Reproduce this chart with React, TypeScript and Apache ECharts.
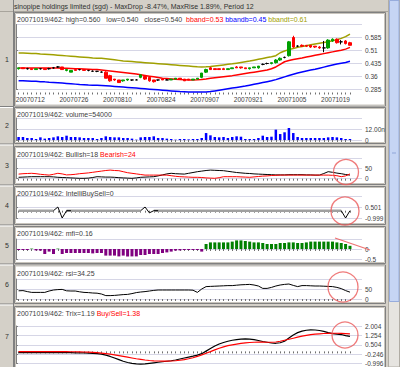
import React, { useEffect, useRef } from 'react';
import * as echarts from 'echarts';

const dates = [
  '20070704','20070705','20070706','20070709','20070710','20070711','20070712','20070713','20070716','20070717',
  '20070718','20070719','20070720','20070723','20070724','20070725','20070726','20070727','20070730','20070731',
  '20070801','20070802','20070803','20070806','20070807','20070808','20070810','20070813','20070814','20070815',
  '20070816','20070817','20070820','20070821','20070822','20070823','20070824','20070827','20070828','20070829',
  '20070830','20070831','20070903','20070904','20070905','20070906','20070907','20070910','20070911','20070912',
  '20070913','20070914','20070917','20070918','20070919','20070920','20070921','20070924','20070925','20070926',
  '20070927','20070928','20071001','20071002','20071003','20071004','20071005','20071008','20071009','20071010',
  '20071011','20071012','20071015','20071016','20071017','20071018','20071019'
];

// [open, close, low, high]
const candles = [
  [.405,.410,.400,.410],[.410,.405,.405,.410],[.405,.405,.400,.410],[.405,.400,.400,.405],[.400,.405,.400,.405],
  [.405,.405,.400,.405],[.405,.400,.400,.405],[.405,.405,.400,.410],[.410,.410,.405,.415],[.415,.415,.410,.420],
  [.415,.400,.400,.415],[.395,.400,.390,.400],[.385,.395,.385,.395],[.400,.395,.395,.400],[.400,.400,.395,.400],
  [.400,.395,.395,.400],[.395,.395,.390,.395],[.390,.390,.390,.395],[.390,.390,.385,.390],[.385,.385,.385,.390],
  [.385,.350,.350,.390],[.365,.335,.330,.370],[.345,.340,.335,.345],[.340,.325,.325,.340],[.335,.340,.330,.340],
  [.340,.345,.335,.345],[.340,.340,.335,.340],[.340,.340,.340,.345],[.355,.370,.350,.370],[.360,.345,.340,.360],
  [.355,.335,.330,.355],[.340,.330,.325,.340],[.340,.340,.335,.340],[.345,.340,.340,.345],[.340,.340,.340,.345],
  [.340,.345,.340,.345],[.345,.350,.345,.350],[.350,.345,.345,.350],[.345,.335,.335,.345],[.345,.340,.340,.345],
  [.340,.345,.340,.345],[.345,.350,.345,.350],[.355,.380,.350,.380],[.385,.400,.380,.405],[.410,.400,.400,.415],
  [.405,.400,.400,.405],[.405,.400,.400,.405],[.405,.400,.400,.410],[.400,.405,.400,.405],[.405,.410,.405,.410],
  [.415,.410,.410,.420],[.415,.410,.405,.415],[.410,.405,.405,.410],[.405,.410,.400,.410],[.410,.415,.410,.415],
  [.410,.420,.405,.420],[.430,.430,.425,.435],[.435,.435,.430,.440],[.435,.440,.430,.440],[.440,.455,.435,.460],
  [.455,.465,.450,.470],[.470,.470,.465,.475],[.480,.560,.475,.565],[.585,.530,.525,.595],[.535,.535,.530,.540],
  [.540,.535,.530,.545],[.540,.535,.530,.540],[.540,.530,.525,.540],[.535,.530,.525,.535],[.530,.525,.520,.535],
  [.525,.525,.500,.565],[.525,.570,.520,.575],[.565,.575,.560,.580],[.575,.555,.550,.580],[.560,.560,.545,.570],
  [.565,.550,.545,.570],[.555,.540,.540,.560]
];

const bbandt = [
  .495,.495,.494,.493,.492,.490,.489,.487,.485,.483,
  .481,.479,.477,.475,.473,.471,.469,.467,.466,.465,
  .462,.459,.456,.453,.450,.448,.446,.444,.442,.440,
  .438,.436,.434,.432,.430,.428,.426,.424,.422,.420,
  .418,.416,.415,.416,.418,.421,.424,.427,.430,.433,
  .437,.441,.445,.449,.454,.459,.464,.469,.474,.480,
  .497,.507,.515,.522,.528,.533,.538,.543,.548,.552,
  .556,.561,.566,.572,.580,.590,.605
];
const bband = [
  .409,.409,.409,.409,.409,.409,.409,.409,.409,.409,
  .408,.407,.406,.405,.404,.403,.402,.401,.400,.398,
  .395,.392,.389,.386,.383,.380,.377,.374,.370,.366,
  .362,.358,.354,.350,.348,.346,.344,.342,.341,.340,
  .340,.341,.343,.346,.350,.353,.356,.359,.362,.365,
  .369,.373,.377,.381,.385,.389,.393,.397,.405,.415,
  .430,.445,.452,.458,.463,.467,.472,.477,.482,.487,
  .492,.497,.502,.507,.512,.518,.528
];
const bbandb = [
  .336,.335,.334,.333,.332,.330,.329,.327,.326,.324,
  .322,.320,.318,.316,.314,.313,.311,.310,.309,.308,
  .307,.305,.303,.301,.299,.297,.295,.293,.291,.289,
  .287,.285,.283,.281,.279,.277,.275,.273,.272,.271,
  .270,.270,.270,.271,.273,.277,.281,.285,.289,.293,
  .297,.301,.305,.310,.315,.320,.325,.330,.335,.342,
  .350,.358,.366,.373,.380,.386,.392,.397,.402,.408,
  .414,.420,.426,.432,.437,.441,.448
];

const volume = [
  3.3,3.3,2.2,2.2,1.1,2.9,1.5,2.2,2.9,4.0, 3.3,4.7,3.3,3.3,2.9,2.2,2.2,2.2,1.1,2.2,
  4.0,3.3,2.9,2.9,2.2,2.2,1.5,0.4,2.9,3.3, 3.3,4.0,2.2,2.2,1.5,1.1,0.4,1.1,1.1,0.7,
  1.1,1.1,2.2,7.6,5.1,3.3,2.9,3.3,2.2,3.3, 4.0,3.6,1.1,1.1,1.1,2.2,4.7,3.3,3.6,11.3,
  6.5,8.4,13.1,7.6,3.3,2.2,2.2,2.2,2.2,2.2, 2.2,2.9,3.3,2.9,2.2,1.1,1.1
];

const bullish = [
  7,8,9,10,10,10,10,10,9,7, 6,5,4,3,2,2,3,6,10,9, 8,8,7,5,4,3,2,4,7,8,
  9,10,14,19,24,27,25,24,23,27, 31,35,38,41,43,42,41,40,37,34, 31,29,27,26,24,23,22,21,20,19,
  19,19,20,20,20,20,19,19,18,18, 26,35,32,28,25,21,18
];
const bearish = [
  23,25,26,27,25,22,20,18,22,27, 24,19,20,22,25,27,29,32,35,38, 41,43,41,40,35,30,27,24,21,18,
  18,18,18,18,18,15,12,10,9,8, 7,7,6,4,3,2,5,10,10,10, 10,9,8,7,9,11,13,14,16,17,
  18,18,18,18,18,18,18,18,18,18, 18,18,17,15,10,14,24
];

const intelli = [
  0,0,0,0,0,0,0,0,0,0.5, -1,0,0,0,0,0,0,0,0,0, 0,0,0,0,0,0,0,0,0,0.5,
  -0.3,0,0,0,0,0,0,0,0,0, 0,0,0,0,0,0,0,0,0,0, 0,0,0,0,0,0,0,0,0,0,
  0,0,0,0,0,0,0,0,0,0, 0,0,0,0,0,-1,0
];

const mfi = [
  -0.05,-0.05,-0.05,0.02,-0.07,-0.08,-0.25,-0.13,-0.25,0.02,
  -0.25,-0.2,-0.2,-0.2,-0.2,-0.2,-0.2,-0.22,-0.2,-0.2,
  -0.33,-0.33,-0.33,-0.37,-0.33,-0.37,-0.37,-0.37,-0.3,-0.3,
  -0.25,-0.25,-0.25,-0.2,-0.17,-0.13,-0.08,-0.07,-0.05,-0.05,
  -0.05,-0.05,-0.13,0.25,0.33,0.33,0.33,0.33,0.33,0.37,
  0.43,0.43,0.4,0.37,0.33,0.33,0.3,0.25,0.25,0.25,
  0.3,0.3,0.33,0.33,0.3,0.3,0.33,0.37,0.37,0.37,
  0.37,0.37,0.37,0.33,0.3,0.25,0.16
];

const rsi = [
  41,42,37,33,33,33,33,40,45,47, 48,41,40,40,36,33,32,30,29,25,
  17,17,18,20,22,23,27,32,35,37, 40,43,45,45,45,45,45,45,45,45,
  44,33,50,62,63,64,65,66,67,67, 69,71,72,73,70,65,53,53,58,65,
  70,73,75,68,62,67,67,66,65,65, 64,63,62,58,52,42,34.25
];

const trix = [
  -0.10,-0.10,-0.10,-0.10,-0.10,-0.10,-0.10,-0.10,-0.10,-0.10,
  -0.10,-0.10,-0.10,-0.11,-0.11,-0.12,-0.13,-0.15,-0.18,-0.22,
  -0.30,-0.40,-0.52,-0.65,-0.78,-0.88,-0.95,-0.99,-1.00,-0.98,
  -0.94,-0.90,-0.86,-0.82,-0.78,-0.74,-0.68,-0.60,-0.52,-0.45,
  -0.38,-0.30,-0.18,0.02,0.22,0.42,0.58,0.70,0.80,0.88,
  0.93,0.97,0.98,0.97,0.93,0.86,0.78,0.72,0.66,0.64,
  0.68,0.80,1.05,1.30,1.48,1.60,1.67,1.70,1.69,1.65,
  1.58,1.48,1.40,1.36,1.33,1.25,1.19
];
const buySell = [
  -0.02,-0.02,-0.02,-0.02,-0.02,-0.02,-0.02,-0.02,-0.02,-0.02,
  -0.02,-0.02,-0.03,-0.03,-0.04,-0.05,-0.06,-0.08,-0.10,-0.13,
  -0.17,-0.22,-0.28,-0.34,-0.40,-0.46,-0.52,-0.58,-0.63,-0.68,
  -0.72,-0.75,-0.76,-0.77,-0.77,-0.76,-0.74,-0.70,-0.65,-0.58,
  -0.50,-0.40,-0.28,-0.15,-0.02,0.12,0.25,0.36,0.45,0.52,
  0.58,0.63,0.67,0.70,0.72,0.73,0.73,0.72,0.72,0.74,
  0.80,0.88,0.96,1.04,1.12,1.20,1.27,1.32,1.36,1.39,
  1.41,1.42,1.43,1.43,1.42,1.40,1.38
];

const NB = '\u00a0';
const mainTitle = 'sinopipe holdings limited (sgd) - MaxDrop -8.47%, MaxRise 1.89%, Period 12';
const volLabel = (v: number) => (v === 0 ? '0' : v.toFixed(2) + 'n');

const FONT = '"Liberation Sans", Arial, sans-serif';
const X_LEFT = 18.6;
const X_STEP = 4.36;
const SLOTS = 80;
const PLOT_L = 16;
const PLOT_R = 362;
const W = 400;
const H = 367;

type Panel = {
  num: string; box: [number, number]; titleY: number; title: string;
  dTop: number; dBot: number; lTop: number; lBot: number;
  lMin: number; lMax: number; step: number; hideMax: boolean;
  fmt?: (v: number) => string;
};

const panels: Panel[] = [
  { num: '1', box: [12.5, 106], titleY: 19,
    title: `{g|20071019/462: high=0.560${NB}${NB}${NB}low=0.540${NB}${NB}${NB}close=0.540${NB}${NB}}{r|bband=0.53}{g|${NB}}{b|bbandb=0.45}{g|${NB}}{o|bbandt=0.61}`,
    dTop: 24.5, dBot: 92.5, lTop: 24.5, lBot: 89.5, lMin: 0.285, lMax: 0.66, step: 0.075, hideMax: true },
  { num: '2', box: [107.5, 143.5], titleY: 114, title: '{g|20071019/462: volume=54000}',
    dTop: 118, dBot: 140, lTop: 118, lBot: 140, lMin: 0, lMax: 24, step: 12, hideMax: true, fmt: volLabel },
  { num: '3', box: [146.5, 184.5], titleY: 154, title: `{g|20071019/462: Bullish=18${NB}}{r|Bearish=24}`,
    dTop: 158.7, dBot: 181, lTop: 158.7, lBot: 178.7, lMin: 0, lMax: 100, step: 50, hideMax: true },
  { num: '4', box: [186.5, 224.5], titleY: 193, title: '{g|20071019/462: IntelliBuySell=0}',
    dTop: 199, dBot: 220.5, lTop: 196, lBot: 218, lMin: -0.999, lMax: 2.001, step: 1.5, hideMax: true },
  { num: '5', box: [226.5, 263.5], titleY: 233, title: '{g|20071019/462: mfi=0.16}',
    dTop: 236, dBot: 259.5, lTop: 239, lBot: 259, lMin: -0.5, lMax: 0.5, step: 0.5, hideMax: true },
  { num: '6', box: [265, 303.5], titleY: 273, title: '{g|20071019/462: rsi=34.25}',
    dTop: 276, dBot: 300.5, lTop: 279, lBot: 299, lMin: 0, lMax: 100, step: 50, hideMax: true },
  { num: '7', box: [306.5, 372], titleY: 313, title: `{g|20071019/462: Trix=1.19${NB}}{r|Buy/Sell=1.38}`,
    dTop: 318, dBot: 366, lTop: 326, lBot: 364, lMin: -0.996, lMax: 2.004, step: 0.75, hideMax: false },
];

const annotCircles = [
  { cx: 346, cy: 172, r: 12.5 },
  { cx: 345, cy: 211, r: 14 },
  { cx: 343, cy: 287, r: 15 },
  { cx: 345, cy: 335, r: 13 },
];

function buildOption() {
  const N = dates.length;
  const cats = dates.concat(Array(SLOTS - N).fill(''));
  const grids: any[] = [];
  const xAxes: any[] = [];
  const yAxes: any[] = [];
  const fmtNum = (v: number) => String(+v.toFixed(3));

  panels.forEach((p, i) => {
    const ppu = (p.lBot - p.lTop) / (p.lMax - p.lMin);
    const dMax = p.lMax + (p.lTop - p.dTop) / ppu;
    const dMin = p.lMin - (p.dBot - p.lBot) / ppu;
    grids.push({ left: X_LEFT, width: X_STEP * (SLOTS - 1), top: p.dTop, height: p.dBot - p.dTop });
    xAxes.push({
      type: 'category', gridIndex: 2 * i, data: cats, boundaryGap: false,
      axisLine: { show: false },
      axisTick: { show: true, length: 2, interval: (idx: number) => idx < N, lineStyle: { color: '#707070', width: 1 } },
      axisLabel: i === 0 ? {
        show: true, interval: (idx: number) => idx >= 6 && idx < N && (idx - 6) % 10 === 0,
        align: 'right', fontSize: 6.5, fontFamily: FONT, color: '#404040', margin: 3,
      } : { show: false },
      splitLine: { show: false },
    });
    yAxes.push({ type: 'value', gridIndex: 2 * i, min: dMin, max: dMax, show: false });
    grids.push({ left: PLOT_L, right: W - PLOT_R, top: p.lTop, height: p.lBot - p.lTop });
    xAxes.push({ type: 'value', gridIndex: 2 * i + 1, min: 0, max: 1, show: false });
    yAxes.push({
      type: 'value', gridIndex: 2 * i + 1, position: 'right',
      min: p.lMin, max: p.lMax, interval: p.step,
      axisLine: { show: true, lineStyle: { color: '#808080', width: 1 } },
      axisTick: { show: true, length: 2, lineStyle: { color: '#808080' } },
      axisLabel: {
        show: true, showMaxLabel: !p.hideMax, showMinLabel: true,
        fontSize: 6.5, fontFamily: FONT, color: '#404040', margin: 3,
        padding: [0, 0, 4, 0],
        formatter: (v: number) => (p.fmt ? p.fmt(v) : fmtNum(v)),
      },
      splitLine: { show: true, lineStyle: { color: '#d6d6e6', width: 1 } },
    });
  });

  const line = (data: any[], gi: number, color: string, width: number, z = 3) => ({
    type: 'line', xAxisIndex: 2 * gi, yAxisIndex: 2 * gi, data, showSymbol: false, symbol: 'none',
    lineStyle: { color, width }, itemStyle: { color }, z, silent: true,
  });

  const grayIBS = intelli.map((v) => (v === 0 ? v : null));
  const blackIBS = intelli.map((v, i) =>
    v !== 0 || (intelli[i - 1] ?? 0) !== 0 || (intelli[i + 1] ?? 0) !== 0 || (intelli[i - 2] ?? 0) !== 0 ? v : null);

  const series: any[] = [
    line(bbandt, 0, '#a0a000', 1.5),
    line(bband, 0, '#ff0000', 1.5),
    line(bbandb, 0, '#0000ff', 1.5),
    {
      type: 'candlestick', xAxisIndex: 0, yAxisIndex: 0, data: candles, barWidth: 3, z: 4,
      itemStyle: {
        color: '#00a000', color0: '#ff0000', borderColor: '#00a000', borderColor0: '#ff0000',
        borderColorDoji: '#000000', borderWidth: 1,
      },
    },
    { type: 'bar', xAxisIndex: 2, yAxisIndex: 2, data: volume, barWidth: 2.5, itemStyle: { color: '#0000ff' } },
    line(bullish, 2, '#000000', 1),
    line(bearish, 2, '#ff0000', 1),
    line(grayIBS, 3, '#a0a0a0', 2.5),
    line(blackIBS, 3, '#000000', 1, 4),
    {
      type: 'bar', xAxisIndex: 8, yAxisIndex: 8, data: mfi, barWidth: 3,
      itemStyle: { color: (pr: any) => (pr.value >= 0 ? '#008000' : '#800080') },
    },
    line(rsi, 5, '#000000', 1),
    line(trix, 6, '#000000', 1.2),
    line(buySell, 6, '#ff0000', 1.2, 4),
  ];

  const g: any[] = [];
  g.push({ type: 'rect', shape: { x: 0, y: 0, width: W, height: H }, style: { fill: '#d4d0c8' }, z: -20 });
  g.push({ type: 'line', shape: { x1: 0, y1: 11.5, x2: 388, y2: 11.5 }, style: { stroke: '#a8a49c', lineWidth: 1 }, z: -19 });
  g.push({ type: 'text', x: 14, y: 6, style: { text: mainTitle, font: `7px ${FONT}`, fill: '#303030', verticalAlign: 'middle' }, z: 10 });
  g.push({ type: 'line', shape: { x1: 13.5, y1: 0, x2: 13.5, y2: H }, style: { stroke: '#808080', lineWidth: 1 }, z: -18 });
  g.push({ type: 'rect', shape: { x: 388.5, y: 0, width: 11, height: H }, style: { fill: '#e6e4e0', stroke: '#b0aca4' }, z: -18 });
  g.push({ type: 'rect', shape: { x: 389.5, y: 0.5, width: 9.5, height: 301 }, style: { fill: '#c6d5f4', stroke: '#97acdc' }, z: -17 });
  g.push({ type: 'line', shape: { x1: 392, y1: 153, x2: 396, y2: 153 }, style: { stroke: '#8fa5d8', lineWidth: 1 }, z: -16 });

  const rich = {
    g: { fill: '#404040', font: `7px ${FONT}` },
    r: { fill: '#ff0000', font: `7px ${FONT}` },
    b: { fill: '#0000ff', font: `7px ${FONT}` },
    o: { fill: '#a0a000', font: `7px ${FONT}` },
  };

  panels.forEach((p) => {
    const [t, b] = p.box;
    g.push({ type: 'line', shape: { x1: 0, y1: b + 0.5, x2: 13.5, y2: b + 0.5 }, style: { stroke: '#808080', lineWidth: 1 }, z: -18 });
    g.push({ type: 'line', shape: { x1: 0, y1: b + 1.5, x2: 13, y2: b + 1.5 }, style: { stroke: '#ffffff', lineWidth: 1 }, z: -18 });
    g.push({ type: 'text', x: 7, y: (t + Math.min(b, H)) / 2, style: { text: p.num, font: `7px ${FONT}`, fill: '#303030', align: 'center', verticalAlign: 'middle' }, z: 10 });
    g.push({ type: 'rect', shape: { x: 14.5, y: t, width: 371, height: b - t }, style: { fill: '#ffffff', stroke: '#808080', lineWidth: 1 }, z: -15 });
    g.push({ type: 'rect', shape: { x: 15.5, y: t + 1, width: 369, height: b - t - 2 }, style: { fill: 'none', stroke: '#c8c4bc', lineWidth: 1 }, z: -14 });
    g.push({ type: 'text', x: 17, y: p.titleY, style: { text: p.title, rich, font: `7px ${FONT}`, fill: '#404040', verticalAlign: 'middle' }, z: 10 });
  });

  annotCircles.forEach((c) => {
    g.push({ type: 'circle', shape: c, style: { fill: 'none', stroke: 'rgba(235,90,90,0.8)', lineWidth: 1.3 }, z: 100 });
  });
  g.push({ type: 'line', shape: { x1: 335, y1: 238, x2: 370, y2: 250 }, style: { stroke: 'rgba(235,90,90,0.85)', lineWidth: 1.3 }, z: 100 });

  return {
    animation: false,
    backgroundColor: '#d4d0c8',
    grid: grids,
    xAxis: xAxes,
    yAxis: yAxes,
    series,
    graphic: { elements: g },
  };
}

export default function App() {
  const ref = useRef<HTMLDivElement>(null);
  useEffect(() => {
    document.body.style.margin = '0';
    const chart = echarts.init(ref.current!, null, { renderer: 'svg' });
    chart.setOption(buildOption() as any);
    return () => chart.dispose();
  }, []);
  return <div ref={ref} style={{ width: W, height: H }} />;
}
